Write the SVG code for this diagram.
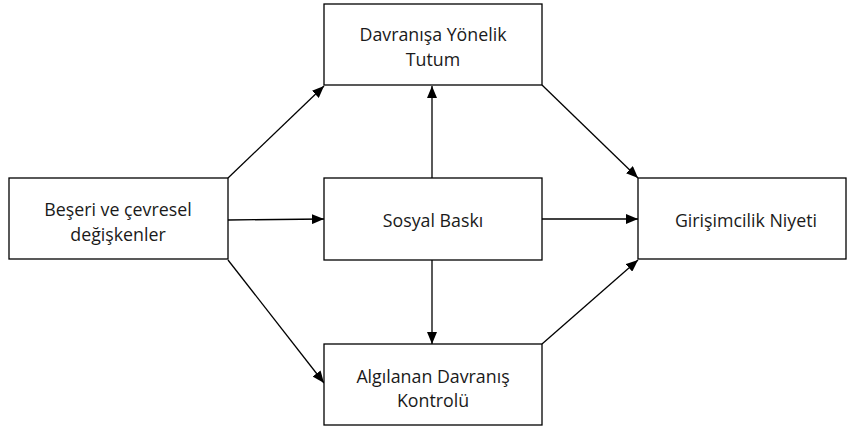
<svg xmlns="http://www.w3.org/2000/svg" width="848" height="430" viewBox="0 0 848 430">
<style>
.box{fill:#fff;stroke:#000;stroke-width:1.3}
.t{font-family:"Open Sans","Liberation Sans",Arial,sans-serif;font-size:17.8px;fill:#1a1a1a;text-anchor:middle}
.c{stroke:#000;stroke-width:1.3;fill:none;marker-end:url(#ah)}
</style>
<defs>
<marker id="ah" viewBox="0 0 12 10" refX="12" refY="5" markerWidth="12" markerHeight="10" markerUnits="userSpaceOnUse" orient="auto">
<path d="M0,0 L12,5 L0,10 Z" fill="#000"/>
</marker>
</defs>
<rect width="848" height="430" fill="#fff"/>
<g id="connectors">
<line class="c" x1="228" y1="178" x2="324" y2="86"/>
<line class="c" x1="228" y1="220" x2="324" y2="219"/>
<line class="c" x1="228" y1="260" x2="324" y2="383"/>
<line class="c" x1="432" y1="178" x2="432" y2="86"/>
<line class="c" x1="432" y1="260" x2="432" y2="344"/>
<line class="c" x1="542" y1="85" x2="638" y2="178"/>
<line class="c" x1="542" y1="219" x2="638" y2="219"/>
<line class="c" x1="542" y1="344" x2="638" y2="260"/>
</g>
<g id="tutum">
<rect class="box" x="324" y="4" width="218" height="81"/>
<text class="t" x="433" y="41">Davranışa Yönelik</text>
<text class="t" x="433" y="65.5">Tutum</text>
</g>
<g id="beseri">
<rect class="box" x="9" y="178" width="219" height="81"/>
<text class="t" x="118" y="216">Beşeri ve çevresel</text>
<text class="t" x="118" y="240.5">değişkenler</text>
</g>
<g id="sosyal">
<rect class="box" x="324" y="178" width="218" height="82"/>
<text class="t" x="433" y="227">Sosyal Baskı</text>
</g>
<g id="girisimcilik">
<rect class="box" x="638" y="178" width="208" height="81"/>
<text class="t" x="746" y="227">Girişimcilik Niyeti</text>
</g>
<g id="kontrol">
<rect class="box" x="324" y="344" width="218" height="81"/>
<text class="t" x="433" y="382.5">Algılanan Davranış</text>
<text class="t" x="433" y="407">Kontrolü</text>
</g>
</svg>
